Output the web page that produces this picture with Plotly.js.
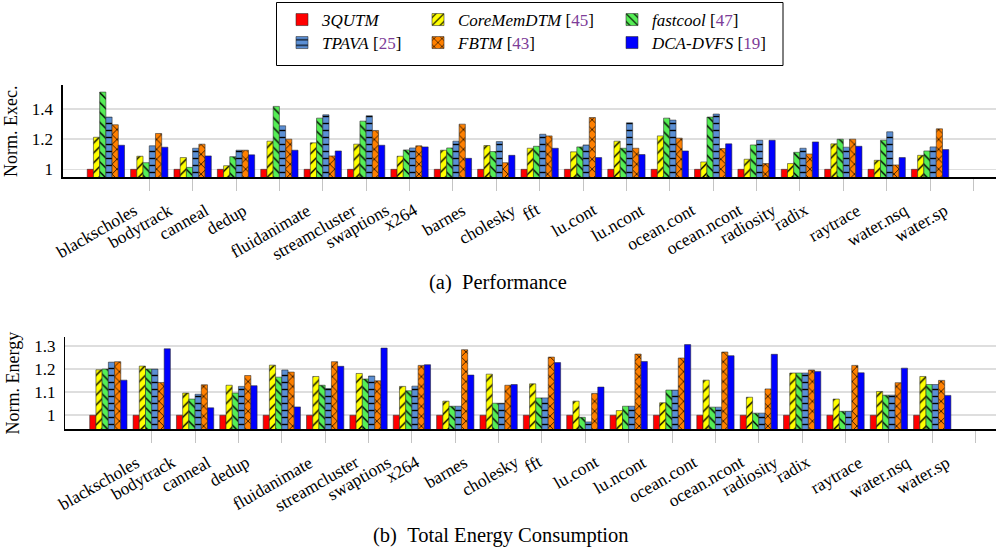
<!DOCTYPE html>
<html><head><meta charset="utf-8">
<script src="https://cdn.plot.ly/plotly-3.0.1.min.js"></script>
<style>html,body{margin:0;padding:0;background:#fff}</style>
</head><body>
<div id="chart" style="width:996px;height:552px"></div>
<script>
const categories = ['blackscholes','bodytrack','canneal','dedup','fluidanimate','streamcluster','swaptions','x264','barnes','cholesky','fft','lu.cont','lu.ncont','ocean.cont','ocean.ncont','radiosity','radix','raytrace','water.nsq','water.sp'];
const seriesNames = ['3QUTM','CoreMemDTM','fastcool','TPAVA','FBTM','DCA-DVFS'];
const seriesRefs = ['', '45', '47', '25', '43', '19'];

// (a) Performance (normalized execution time)
const perf3QUTM      = [1,1,1,1,1,1,1,1,1,1,1,1,1,1,1,1,1,1,1,1];
const perfCoreMemDTM = [1.213,1.087,1.078,1.024,1.187,1.176,1.167,1.087,1.127,1.158,1.140,1.116,1.187,1.222,1.049,1.067,1.038,1.169,1.060,1.093];
const perfFastcool   = [1.513,1.044,1.013,1.084,1.418,1.340,1.320,1.129,1.142,1.118,1.153,1.149,1.140,1.340,1.347,1.162,1.113,1.200,1.193,1.122];
const perfTPAVA      = [1.347,1.156,1.140,1.127,1.289,1.362,1.356,1.142,1.187,1.184,1.233,1.162,1.309,1.327,1.367,1.193,1.140,1.147,1.249,1.149];
const perfFBTM       = [1.296,1.238,1.167,1.127,1.200,1.089,1.258,1.156,1.300,1.044,1.222,1.344,1.140,1.207,1.138,1.038,1.102,1.200,1.029,1.269];
const perfDCADVFS    = [1.160,1.147,1.089,1.096,1.127,1.122,1.160,1.149,1.073,1.093,1.140,1.078,1.098,1.122,1.169,1.193,1.182,1.153,1.078,1.131];

// (b) Total energy consumption (normalized)
const energy3QUTM      = [1,1,1,1,1,1,1,1,1,1,1,1,1,1,1,1,1,1,1,1];
const energyCoreMemDTM = [1.197,1.213,1.096,1.130,1.217,1.168,1.181,1.125,1.061,1.178,1.136,1.061,1.020,1.054,1.152,1.078,1.183,1.070,1.103,1.168];
const energyFastcool   = [1.200,1.200,1.070,1.096,1.165,1.130,1.157,1.106,1.039,1.052,1.075,0.991,1.039,1.109,1.035,1.009,1.183,1.017,1.087,1.133];
const energyTPAVA      = [1.230,1.200,1.091,1.125,1.196,1.116,1.170,1.126,1.039,1.052,1.075,0.971,1.039,1.109,1.035,1.009,1.183,1.017,1.087,1.133];
const energyFBTM       = [1.232,1.142,1.132,1.172,1.187,1.232,1.149,1.216,1.284,1.130,1.252,1.094,1.265,1.248,1.274,1.114,1.196,1.216,1.141,1.151];
const energyDCADVFS    = [1.152,1.288,1.032,1.128,1.036,1.212,1.291,1.219,1.174,1.133,1.228,1.122,1.233,1.306,1.258,1.264,1.190,1.184,1.204,1.086];

const perfSeries = [perf3QUTM, perfCoreMemDTM, perfFastcool, perfTPAVA, perfFBTM, perfDCADVFS];
const energySeries = [energy3QUTM, energyCoreMemDTM, energyFastcool, energyTPAVA, energyFBTM, energyDCADVFS];

const W = 996, H = 552;
const px = v => v / W;
const py = v => 1 - v / H;
const FONT = 'Liberation Serif';

const styles = [
  {color:'#ff0000', shape:''},
  {color:'#ffff00', shape:'/'},
  {color:'#55ee55', shape:'\\'},
  {color:'#5b8fd4', shape:'-'},
  {color:'#ff8000', shape:'x'},
  {color:'#0000ff', shape:''}
];
const idx = categories.map((c, i) => i);

function legendName(k) {
  return '<i>' + seriesNames[k] + '</i>' + (seriesRefs[k] ? ' [<span style="color:#7d3c98">' + seriesRefs[k] + '</span>]' : '');
}
function mk(vals, k, xa, ya, showleg) {
  const s = styles[k];
  const marker = {color: s.color, line: {color: 'rgba(40,40,40,0.7)', width: 0.8}};
  if (s.shape) marker.pattern = {shape: s.shape, fgcolor: '#000', bgcolor: s.color, size: 7, solidity: 0.2, fillmode: 'replace'};
  return {type: 'bar', x: idx, y: vals, xaxis: xa, yaxis: ya, name: legendName(k),
    showlegend: showleg, legend: k === 0 ? 'legend' : 'legend' + (k + 1),
    marker: marker, hoverinfo: 'skip'};
}

const traces = [];
perfSeries.forEach((v, k) => traces.push(mk(v, k, 'x', 'y', true)));
energySeries.forEach((v, k) => traces.push(mk(v, k, 'x2', 'y2', false)));

const tickPos = categories.map((c, i) => i + 1);

function xax(dom, anchor, r) {
  return {domain: dom, anchor: anchor, range: r, tickvals: tickPos, ticks: 'outside', ticklen: 12,
    tickcolor: '#c4c4c4', tickwidth: 1, showticklabels: false, showgrid: false, zeroline: false,
    showline: true, linecolor: '#000', linewidth: 1.2, fixedrange: true};
}
function yax(dom, anchor, r, tv, title) {
  return {domain: dom, anchor: anchor, range: r, tickvals: tv, ticktext: tv.map(String),
    showgrid: true, gridcolor: '#dedede', gridwidth: 1.6, zeroline: false, showline: true,
    linecolor: '#000', linewidth: 1.2, ticks: '', ticklabelstandoff: 5,
    tickfont: {family: FONT, size: 17, color: '#000'},
    title: {text: title, standoff: 9, font: {family: FONT, size: 18, color: '#000'}}, fixedrange: true};
}

const legendCols = [282, 418, 612];
const legendRows = [20, 43];
const layout = {
  width: W, height: H, margin: {l: 0, r: 0, t: 0, b: 0},
  paper_bgcolor: '#fff', plot_bgcolor: '#fff',
  barmode: 'group', bargap: 0.14, bargroupgap: 0,
  font: {family: FONT, size: 16, color: '#000'},
  xaxis: xax([62.5 / W, 1], 'y', [-1, 20.52]),
  yaxis: yax([py(177.3), py(85)], 'x', [0.947, 1.56], [1, 1.2, 1.4], 'Norm. Exec.'),
  xaxis2: xax([65 / W, 1], 'y2', [-1, 20.47]),
  yaxis2: yax([py(429.3), py(337)], 'x2', [0.939, 1.339], [1, 1.1, 1.2, 1.3], 'Norm. Energy'),
  shapes: [{type: 'rect', xref: 'paper', yref: 'paper', x0: px(276.5), x1: px(783), y0: py(65.5), y1: py(2.5),
    line: {color: '#000', width: 1}, fillcolor: 'rgba(0,0,0,0)'}],
  annotations: []
};
seriesNames.forEach((n, k) => {
  const key = k === 0 ? 'legend' : 'legend' + (k + 1);
  layout[key] = {x: px(legendCols[k % 3]), y: py(legendRows[Math.floor(k / 3)]), xanchor: 'left', yanchor: 'middle',
    orientation: 'h', bgcolor: 'rgba(0,0,0,0)', borderwidth: 0, itemwidth: 30,
    font: {family: FONT, size: 17, color: '#000'}};
});
categories.forEach((c, i) => {
  layout.annotations.push({xref: 'x', yref: 'paper', x: i - 0.21, y: py(197), text: c, textangle: -30,
    xanchor: 'center', yanchor: 'top', showarrow: false, font: {family: FONT, size: 17.5, color: '#000'}});
  layout.annotations.push({xref: 'x2', yref: 'paper', x: i - 0.21, y: py(449), text: c, textangle: -30,
    xanchor: 'center', yanchor: 'top', showarrow: false, font: {family: FONT, size: 17.5, color: '#000'}});
});
layout.annotations.push({xref: 'paper', yref: 'paper', x: px(498), y: py(283), text: '(a)\u00a0\u00a0Performance',
  showarrow: false, xanchor: 'center', yanchor: 'middle', font: {family: FONT, size: 20.5, color: '#000'}});
layout.annotations.push({xref: 'paper', yref: 'paper', x: px(501), y: py(535), text: '(b)\u00a0\u00a0Total Energy Consumption',
  showarrow: false, xanchor: 'center', yanchor: 'middle', font: {family: FONT, size: 20.5, color: '#000'}});

Plotly.newPlot('chart', traces, layout, {displayModeBar: false, staticPlot: true});
</script>
</body></html>
